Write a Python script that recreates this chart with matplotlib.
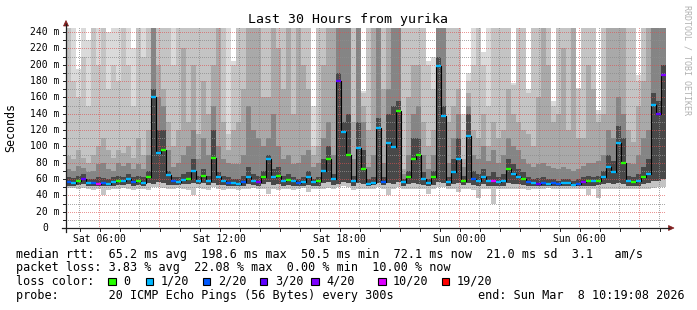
import matplotlib
matplotlib.use('Agg')
import matplotlib.pyplot as plt
import numpy as np
from matplotlib.patches import Rectangle, Polygon
from matplotlib.lines import Line2D

W, H = 697, 310
T0 = 4 + 19 / 60 + 8 / 3600   # Sat 04:19:08, hours after Sat 00:00
STEP = 0.25                    # 15 minute bins

median = [56, 55, 57, 60, 55, 55, 54, 55, 54, 56,
          58, 57, 60, 56, 58, 55, 63, 160, 92, 95,
          65, 57, 56, 59, 60, 70, 58, 64, 58, 86,
          63, 57, 55, 55, 54, 56, 63, 57, 56, 62,
          84, 62, 64, 58, 59, 57, 55, 56, 63, 56,
          58, 70, 84, 60, 180, 118, 90, 58, 98, 72,
          54, 55, 123, 56, 104, 99, 143, 56, 63, 85,
          90, 60, 55, 62, 198, 137, 56, 69, 85, 58,
          113, 60, 58, 62, 57, 58, 56, 58, 72, 66,
          62, 60, 56, 55, 54, 55, 54, 55, 54, 55,
          55, 53, 54, 56, 57, 57, 58, 62, 75, 69,
          104, 80, 57, 56, 58, 63, 66, 151, 140, 188]

loss = [2, 1, 0, 3, 1, 2, 10, 2, 1, 1,
        0, 1, 1, 2, 0, 1, 0, 1, 1, 0,
        1, 2, 1, 1, 0, 1, 1, 0, 1, 0,
        1, 1, 2, 1, 1, 2, 1, 1, 4, 0,
        1, 1, 0, 1, 0, 1, 2, 1, 1, 1,
        0, 1, 0, 1, 3, 1, 0, 1, 1, 0,
        1, 1, 1, 2, 1, 1, 0, 1, 0, 0,
        0, 1, 1, 0, 1, 1, 1, 1, 1, 0,
        1, 2, 1, 1, 1, 10, 1, 1, 0, 1,
        1, 0, 2, 1, 3, 2, 1, 2, 2, 1,
        1, 1, 2, 4, 0, 1, 0, 1, 1, 1,
        1, 0, 1, 0, 1, 0, 1, 1, 3, 4]

ping_min = [49, 49, 48, 49, 48, 47, 48, 40, 46, 48,
            48, 49, 48, 47, 48, 48, 46, 50, 50, 49,
            48, 48, 49, 48, 47, 40, 49, 48, 47, 50,
            48, 47, 48, 48, 47, 48, 48, 49, 48, 48,
            42, 48, 47, 48, 48, 47, 48, 49, 44, 48,
            48, 48, 49, 48, 50, 52, 50, 47, 48, 48,
            48, 48, 50, 48, 40, 48, 50, 48, 48, 48,
            48, 48, 42, 48, 50, 50, 48, 48, 44, 48,
            48, 47, 37, 48, 48, 30, 48, 48, 48, 48,
            48, 48, 46, 48, 48, 48, 49, 48, 48, 48,
            48, 48, 48, 48, 40, 48, 37, 48, 48, 48,
            48, 48, 48, 48, 48, 48, 48, 49, 50, 50]

ping_lo = [52, 52, 53, 54, 52, 51, 51, 52, 51, 52,
           53, 53, 54, 52, 53, 52, 55, 54, 56, 55,
           53, 53, 53, 54, 54, 55, 54, 55, 53, 55,
           53, 53, 52, 52, 51, 52, 54, 53, 52, 54,
           56, 53, 54, 52, 53, 52, 51, 52, 53, 51,
           52, 55, 56, 53, 54, 56, 55, 52, 55, 54,
           52, 53, 55, 53, 55, 54, 56, 52, 54, 55,
           54, 53, 51, 53, 56, 55, 52, 54, 55, 53,
           55, 53, 52, 54, 52, 52, 51, 52, 55, 54,
           54, 53, 52, 51, 51, 52, 51, 52, 51, 52,
           52, 51, 51, 52, 52, 52, 53, 54, 55, 54,
           55, 54, 52, 52, 52, 54, 55, 58, 58, 60]

smoke1 = [62, 61, 64, 66, 60, 60, 62, 61, 60, 62,
          64, 63, 66, 62, 64, 62, 70, 170, 120, 120,
          70, 62, 62, 66, 68, 85, 64, 72, 64, 120,
          68, 64, 62, 60, 60, 64, 75, 66, 64, 70,
          90, 72, 75, 64, 66, 62, 60, 63, 70, 60,
          62, 85, 100, 66, 190, 130, 140, 64, 130, 95,
          60, 62, 135, 62, 140, 150, 155, 60, 70, 110,
          110, 68, 60, 70, 210, 150, 62, 85, 110, 64,
          140, 70, 66, 72, 64, 68, 62, 66, 85, 78,
          72, 68, 62, 60, 61, 62, 60, 60, 58, 60,
          60, 58, 60, 62, 64, 63, 64, 70, 90, 82,
          125, 110, 64, 62, 66, 75, 85, 165, 155, 200]

smoke2 = [72, 70, 76, 74, 68, 70, 78, 80, 72, 70,
          80, 76, 80, 72, 78, 72, 90, 250, 160, 150,
          95, 75, 80, 90, 100, 120, 85, 110, 90, 150,
          100, 85, 80, 78, 78, 90, 150, 120, 110, 100,
          110, 140, 100, 85, 90, 78, 80, 90, 95, 75,
          80, 110, 130, 90, 250, 250, 250, 85, 250, 130,
          75, 90, 250, 80, 170, 250, 250, 66, 90, 140,
          150, 90, 72, 90, 250, 250, 80, 110, 140, 75,
          150, 90, 85, 100, 82, 95, 80, 90, 110, 100,
          95, 85, 78, 75, 78, 80, 76, 74, 72, 75,
          72, 70, 72, 76, 80, 80, 82, 90, 120, 110,
          160, 140, 80, 78, 90, 110, 120, 250, 250, 250]

smoke3 = [88, 84, 95, 86, 80, 90, 100, 110, 95, 86,
          95, 92, 100, 86, 110, 90, 120, 250, 200, 170,
          130, 100, 120, 220, 130, 200, 115, 180, 140, 200,
          250, 130, 95, 120, 130, 170, 250, 250, 250, 160,
          160, 250, 220, 170, 250, 140, 250, 200, 170, 90,
          100, 200, 250, 250, 250, 250, 250, 130, 250, 150,
          120, 250, 250, 170, 250, 250, 250, 72, 160, 200,
          200, 130, 100, 120, 250, 250, 130, 150, 170, 85,
          165, 120, 110, 140, 100, 130, 110, 120, 170, 140,
          130, 120, 115, 100, 160, 250, 200, 130, 140, 220,
          120, 250, 110, 110, 200, 170, 130, 140, 250, 250,
          250, 250, 120, 105, 150, 180, 250, 250, 250, 250]

smoke4 = [250, 180, 160, 210, 150, 250, 200, 250, 170, 200,
          180, 250, 200, 150, 250, 210, 250, 250, 250, 250,
          250, 200, 250, 250, 250, 250, 250, 250, 250, 250,
          250, 250, 115, 200, 250, 250, 250, 250, 250, 250,
          250, 250, 250, 250, 250, 250, 250, 250, 250, 100,
          250, 250, 250, 250, 250, 250, 250, 250, 250, 165,
          250, 250, 250, 250, 250, 250, 250, 250, 250, 250,
          250, 250, 200, 170, 250, 250, 250, 250, 250, 120,
          180, 200, 250, 200, 150, 250, 250, 250, 250, 175,
          250, 250, 165, 250, 250, 250, 250, 150, 250, 250,
          250, 250, 170, 250, 250, 250, 140, 250, 250, 250,
          250, 250, 250, 250, 180, 250, 250, 250, 250, 250]

smoke5 = [250, 250, 195, 250, 230, 250, 250, 250, 240, 250,
          250, 250, 250, 220, 250, 250, 250, 250, 250, 250,
          250, 250, 250, 250, 250, 250, 250, 250, 250, 250,
          250, 250, 250, 205, 250, 250, 250, 250, 250, 250,
          250, 250, 250, 250, 250, 250, 250, 250, 250, 150,
          250, 250, 250, 250, 250, 250, 250, 250, 250, 168,
          250, 250, 250, 250, 250, 250, 250, 250, 250, 250,
          250, 250, 205, 210, 250, 250, 250, 250, 250, 140,
          190, 250, 250, 215, 250, 250, 250, 250, 250, 178,
          250, 250, 170, 250, 250, 250, 250, 155, 250, 250,
          250, 250, 172, 250, 250, 250, 145, 250, 250, 250,
          250, 250, 250, 250, 187, 250, 250, 250, 250, 250]

hour_ticks = [6, 12, 18, 24, 30]
hour_labels = ['Sat 06:00', 'Sat 12:00', 'Sat 18:00', 'Sun 00:00', 'Sun 06:00']
y_ticks = [0, 20, 40, 60, 80, 100, 120, 140, 160, 180, 200, 220, 240]
y_labels = ['0', '20 m', '40 m', '60 m', '80 m', '100 m', '120 m', '140 m',
            '160 m', '180 m', '200 m', '220 m', '240 m']

loss_thresholds = [0, 1, 2, 3, 4, 10, 19]
loss_names = ['0', '1/20', '2/20', '3/20', '4/20', '10/20', '19/20']
loss_colors = ['#26ff00', '#00b8ff', '#0059ff', '#5e00ff', '#7e00ff', '#dd00ff', '#ff0000']

legend_rtt = "median rtt:  65.2 ms avg  198.6 ms max  50.5 ms min  72.1 ms now  21.0 ms sd  3.1   am/s"
legend_loss = "packet loss: 3.83 % avg  22.08 % max  0.00 % min  10.00 % now"
probe_text = "probe:       20 ICMP Echo Pings (56 Bytes) every 300s"
end_text = "end: Sun Mar  8 10:19:08 2026"
title = "Last 30 Hours from yurika"

MONO = 'DejaVu Sans Mono'
GRID = (0.56, 0.56, 0.56, 0.75)
MGRID = (0.87, 0.31, 0.31, 0.6)
ARROW = (0.5, 0.12, 0.12)
AXIS = (0.12, 0.12, 0.12)

PW, PH = 600, 200          # plot area in pixels
YMAX = 245


def fp(x, y):
    return x / W, 1 - y / H


fig = plt.figure(figsize=(W / 100, H / 100), dpi=100)
fig.patch.set_facecolor('white')
ax = fig.add_axes([66 / W, (H - 228) / H, PW / W, PH / H])
for s in ax.spines.values():
    s.set_visible(False)
ax.set_xticks([])
ax.set_yticks([])

n = len(median)
edges = T0 + STEP * np.arange(n + 1)


def ext(a):
    a = np.asarray(a, dtype=float)
    return np.append(a, a[-1])


layers = [(ping_min, smoke5, '#dadada'),
          (ping_min, smoke4, '#c4c4c4'),
          (ping_lo, smoke3, '#a9a9a9'),
          (ping_lo, smoke2, '#858585'),
          (ping_lo, smoke1, '#484848')]
for lo_arr, hi_arr, col in layers:
    ax.fill_between(edges, ext(lo_arr), ext(hi_arr), step='post', color=col,
                    lw=0, antialiased=False, zorder=2)

# dotted grid (1 px on / 1 px off) as a pixel-exact overlay on top of the smoke
grid_img = np.zeros((PH, PW, 4))
for v in range(10, 241, 10):
    row = int(round(PH - v * PH / YMAX))
    if 0 <= row < PH:
        grid_img[row, 0::2] = MGRID if v % 20 == 0 else GRID
for h in range(5, 35):
    col = int((h - T0) * PW / 30)
    if 0 <= col < PW:
        grid_img[0::2, col] = MGRID if h % 3 == 0 else GRID
ax.imshow(grid_img, extent=(T0, T0 + 30, 0, YMAX), origin='upper', aspect='auto',
          interpolation='nearest', zorder=4)

# median line
ax.step(edges, ext(median), where='post', color='black', lw=0.8, zorder=5)


def loss_color(c):
    col = loss_colors[0]
    for t, cc in zip(loss_thresholds, loss_colors):
        if c >= t:
            col = cc
    return col


ax.hlines(median, edges[:-1], edges[1:], colors=[loss_color(c) for c in loss],
          lw=1.7, zorder=6)
ax.set_xlim(T0, T0 + 30)
ax.set_ylim(0, YMAX)

# axes lines and arrows
fig.add_artist(Line2D([62 / W, 669 / W], [fp(0, 228)[1]] * 2, color=AXIS, lw=0.9))
fig.add_artist(Line2D([66 / W] * 2, [fp(0, 232)[1], fp(0, 24)[1]], color=AXIS, lw=0.9))
fig.add_artist(Polygon([fp(63.5, 26), fp(68.5, 26), fp(66, 20.5)], closed=True,
                       facecolor=ARROW, edgecolor=ARROW, lw=0.5))
fig.add_artist(Polygon([fp(668.5, 225.5), fp(668.5, 230.5), fp(674, 228)], closed=True,
                       facecolor=ARROW, edgecolor=ARROW, lw=0.5))

# tick marks
for v in range(0, 241, 10):
    yy = 228 - v * PH / YMAX
    fig.add_artist(Line2D([63 / W, 66 / W], [fp(0, yy)[1]] * 2, color=AXIS, lw=0.7))
for h in range(5, 35):
    xx = 66 + (h - T0) * 20
    fig.add_artist(Line2D([xx / W] * 2, [fp(0, 228)[1], fp(0, 230.5)[1]], color=AXIS, lw=0.7))

# tick labels
for v, lab in zip(y_ticks, y_labels):
    yy = 228 - v * PH / YMAX
    xr = 59.5 if lab != '0' else 48.5
    fig.text(*fp(xr, yy), lab, ha='right', va='center', fontsize=7, family=MONO)
for h, lab in zip(hour_ticks, hour_labels):
    xx = 66 + (h - T0) * 20
    fig.text(*fp(xx, 238.5), lab, ha='center', va='center', fontsize=7, family=MONO)

fig.text(*fp(348, 19), title, ha='center', va='center', fontsize=9.5, family=MONO)
fig.text(*fp(11, 127), 'Seconds', ha='center', va='center', rotation=90,
         fontsize=8.4, family=MONO)
fig.text(*fp(687, 60), 'RRDTOOL / TOBI OETIKER', ha='center', va='center',
         rotation=-90, fontsize=6, family=MONO, color='#b0b0b0')

# legend
fig.text(*fp(16, 254.5), legend_rtt, ha='left', va='center', fontsize=8.5, family=MONO)
fig.text(*fp(16, 268), legend_loss, ha='left', va='center', fontsize=8.5, family=MONO)
fig.text(*fp(16, 281.5), 'loss color:', ha='left', va='center', fontsize=8.5, family=MONO)
box_x = [108.3, 145.7, 203, 259.7, 311.3, 378.3, 441.7]
text_x = [123.5, 160.5, 218, 275, 326.5, 393, 456.5]
for bx, tx, name, col in zip(box_x, text_x, loss_names, loss_colors):
    x0, y0 = fp(bx, 285)
    fig.add_artist(Rectangle((x0, y0), 7.2 / W, 7.4 / H, facecolor=col,
                             edgecolor='black', lw=0.8))
    fig.text(*fp(tx, 281.5), name, ha='left', va='center', fontsize=8.5, family=MONO)
fig.text(*fp(16, 295.5), probe_text, ha='left', va='center', fontsize=8.5, family=MONO)
fig.text(*fp(478.3, 295.5), end_text, ha='left', va='center', fontsize=8.5, family=MONO)

fig.savefig('out.png', dpi=100, facecolor='white')
